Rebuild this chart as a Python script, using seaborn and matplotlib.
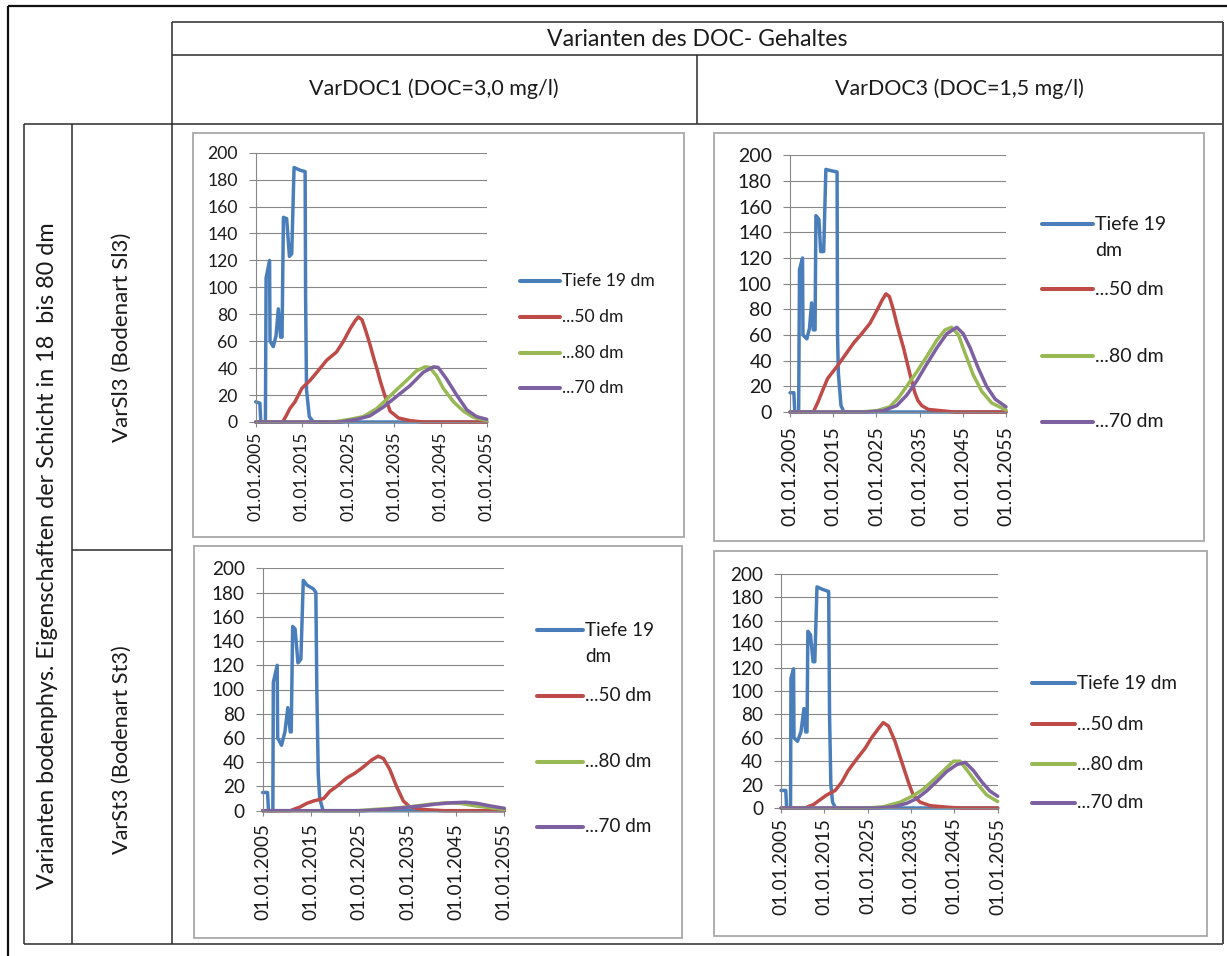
import matplotlib
matplotlib.use("Agg")
import matplotlib.pyplot as plt
import seaborn as sns
import pandas as pd
from matplotlib.patches import Rectangle
from matplotlib.lines import Line2D

sns.set_theme(style="white")
plt.rcParams["font.family"] = ["Lato", "DejaVu Sans"]
plt.rcParams["lines.solid_joinstyle"] = "round"
plt.rcParams["lines.solid_capstyle"] = "round"

# ---------------------------------------------------------------- labels
COL_HEADER = "Varianten des DOC- Gehaltes"
COL_LABELS = ["VarDOC1 (DOC=3,0 mg/l)", "VarDOC3 (DOC=1,5 mg/l)"]
ROW_HEADER = "Varianten bodenphys. Eigenschaften der Schicht in 18  bis 80 dm"
ROW_LABELS = ["VarSl3 (Bodenart Sl3)", "VarSt3 (Bodenart St3)"]

SERIES = ["Tiefe 19 dm", "...50 dm", "...80 dm", "...70 dm"]
COLORS = ["#4a7ebb", "#be4b48", "#98b954", "#7d60a0"]
TICK_YEARS = [2005, 2015, 2025, 2035, 2045, 2055]
Y_TICKS = [0, 20, 40, 60, 80, 100, 120, 140, 160, 180, 200]

# ---------------------------------------------------------------- VarDOC1 / VarSl3
A_T19_X = [2005.0, 2005.9, 2006.1, 2007.1, 2007.25, 2008.0, 2008.1, 2008.8, 2009.4, 2009.9,
           2010.4, 2010.7, 2011.0, 2011.7, 2012.3, 2012.8, 2013.3, 2014.6, 2015.7, 2015.8,
           2016.0, 2016.6, 2017.5, 2055.0]
A_T19_Y = [15, 14, 0, 0, 107, 120, 60, 56, 64, 84, 63, 63, 152, 151, 123, 125, 189, 187, 186,
           93, 24, 4, 0, 0]
A_T50_X = [2005.0, 2010.8, 2011.5, 2012.4, 2013.5, 2015.0, 2016.8, 2018.5, 2020.4, 2022.5,
           2024.0, 2025.4, 2026.5, 2027.2, 2028.0, 2028.8, 2029.7, 2030.5, 2031.2, 2032.0,
           2033.0, 2034.1, 2035.9, 2038.4, 2041.3, 2055.0]
A_T50_Y = [0, 0, 4, 10, 15, 25, 31, 38, 46, 52, 60, 69, 75, 78, 76, 68, 58, 48, 40, 30, 19, 8,
           3, 1, 0, 0]
A_T80_X = [2005.0, 2021.8, 2025.4, 2028.3, 2031.2, 2033.4, 2035.5, 2037.7, 2039.8, 2041.7,
           2042.7, 2044.2, 2045.6, 2047.8, 2050.0, 2052.1, 2055.0]
A_T80_Y = [0, 0, 2, 4, 10, 17, 24, 31, 38, 41, 40.5, 34, 25, 15, 8, 3.5, 1]
A_T70_X = [2005.0, 2023.3, 2026.9, 2029.7, 2032.6, 2035.5, 2038.4, 2041.3, 2043.5, 2044.5,
           2046.3, 2048.5, 2050.7, 2052.8, 2055.0]
A_T70_Y = [0, 0, 2, 4.5, 11, 19, 27, 37, 41, 40.5, 32, 20, 9, 4, 2]

# ---------------------------------------------------------------- VarDOC3 / VarSl3
B_T19_X = [2005.0, 2005.9, 2006.1, 2007.0, 2007.2, 2007.9, 2008.0, 2008.9, 2009.5, 2010.0,
           2010.4, 2010.8, 2011.0, 2011.7, 2012.1, 2012.8, 2013.3, 2014.5, 2015.9, 2016.0,
           2016.2, 2016.8, 2017.5, 2055.0]
B_T19_Y = [15, 15, 0, 0, 111, 120, 60, 57, 65, 85, 64, 64, 153, 150, 125, 125, 189, 188, 187,
           60, 30, 5, 0, 0]
B_T50_X = [2005.0, 2010.4, 2011.5, 2012.7, 2013.7, 2014.6, 2016.0, 2018.1, 2019.8, 2021.6,
           2023.5, 2025.1, 2026.3, 2027.2, 2028.0, 2028.9, 2029.7, 2030.5, 2031.2, 2032.0,
           2032.8, 2033.9, 2034.6, 2035.5, 2037.0, 2040.0, 2043.0, 2055.0]
B_T50_Y = [0, 0, 8, 18, 26, 30, 36, 46, 54, 61, 69, 79, 87, 92, 90, 80, 69, 59, 51, 40, 29, 15,
           9, 5, 2, 1, 0, 0]
B_T80_X = [2005.0, 2021.2, 2025.1, 2028.1, 2030.1, 2032.0, 2034.3, 2036.6, 2039.0, 2040.9,
           2042.4, 2044.0, 2045.5, 2047.4, 2049.4, 2051.7, 2055.0]
B_T80_Y = [0, 0, 1, 4, 11, 20, 31, 43, 56, 64, 66, 60, 46, 29, 16, 7, 1.5]
B_T70_X = [2005.0, 2022.7, 2026.6, 2029.7, 2032.0, 2034.3, 2036.6, 2039.0, 2041.3, 2043.6,
           2045.1, 2046.7, 2048.6, 2050.5, 2052.5, 2055.0]
B_T70_Y = [0, 0, 1, 5, 13, 24, 37, 50, 61, 66, 61, 50, 34, 20, 10, 4]

# ---------------------------------------------------------------- VarDOC1 / VarSt3
C_T19_X = [2005.0, 2006.0, 2006.2, 2007.1, 2007.2, 2008.0, 2008.1, 2008.9, 2009.6, 2010.2,
           2010.7, 2010.9, 2011.2, 2011.7, 2012.3, 2012.9, 2013.4, 2014.2, 2015.5, 2016.0,
           2016.2, 2016.5, 2016.8, 2017.5, 2055.0]
C_T19_Y = [15, 15, 0, 0, 106, 120, 60, 54, 65, 85, 65, 65, 152, 150, 122, 125, 190, 186, 183,
           180, 100, 30, 10, 0, 0]
C_T50_X = [2005.0, 2010.7, 2012.7, 2014.1, 2015.5, 2017.6, 2018.9, 2020.3, 2022.4, 2024.1,
           2025.8, 2027.6, 2028.9, 2030.0, 2031.3, 2032.7, 2034.1, 2035.5, 2038.2, 2042.4,
           2055.0]
C_T50_Y = [0, 0, 3, 6, 8, 10, 16, 20, 27, 31, 36, 42, 45, 43, 34, 20, 8, 3, 1, 0, 0]
C_T80_X = [2005.0, 2024.4, 2028.0, 2032.0, 2036.0, 2040.0, 2043.0, 2046.0, 2049.0, 2052.0,
           2055.0]
C_T80_Y = [0, 0, 1, 2, 3.5, 5.5, 6.5, 6, 4, 2.5, 1]
C_T70_X = [2005.0, 2025.8, 2030.0, 2034.0, 2038.0, 2041.0, 2044.0, 2047.0, 2049.5, 2052.0,
           2055.0]
C_T70_Y = [0, 0, 1, 2.5, 4, 5.5, 6.5, 7, 6, 4, 2]

# ---------------------------------------------------------------- VarDOC3 / VarSt3
D_T19_X = [2005.0, 2006.1, 2006.3, 2007.2, 2007.3, 2007.9, 2008.0, 2008.8, 2009.6, 2010.3,
           2010.7, 2011.0, 2011.2, 2011.8, 2012.4, 2012.8, 2013.3, 2014.5, 2016.0, 2016.2,
           2016.5, 2016.9, 2017.6, 2055.0]
D_T19_Y = [15, 15, 0, 0, 111, 119, 60, 57, 65, 85, 65, 65, 151, 148, 125, 125, 189, 187, 185,
           80, 20, 5, 0, 0]
D_T50_X = [2005.0, 2010.5, 2012.5, 2014.0, 2015.5, 2017.5, 2019.0, 2020.5, 2022.5, 2024.4,
           2025.9, 2027.5, 2028.6, 2029.8, 2031.3, 2032.8, 2034.4, 2035.5, 2037.1, 2039.4,
           2044.0, 2047.0, 2055.0]
D_T50_Y = [0, 0, 3, 7, 11, 15, 22, 32, 42, 51, 60, 68, 73, 70, 57, 40, 22, 11, 5, 2, 0.5, 0, 0]
D_T80_X = [2005.0, 2024.8, 2028.6, 2032.5, 2035.5, 2037.8, 2040.2, 2042.5, 2044.8, 2046.3,
           2048.2, 2050.2, 2052.5, 2055.0]
D_T80_Y = [0, 0, 1, 5, 10.5, 16, 24, 32, 40, 40, 31, 21, 11, 5.5]
D_T70_X = [2005.0, 2027.1, 2030.9, 2034.0, 2036.3, 2038.6, 2040.9, 2043.2, 2045.5, 2047.5,
           2049.4, 2051.3, 2053.2, 2055.0]
D_T70_Y = [0, 0, 1, 4, 8, 14.5, 22.5, 31, 37, 39, 32, 22.5, 14.5, 10]

PANELS = [
    [(A_T19_X, A_T19_Y), (A_T50_X, A_T50_Y), (A_T80_X, A_T80_Y), (A_T70_X, A_T70_Y)],
    [(B_T19_X, B_T19_Y), (B_T50_X, B_T50_Y), (B_T80_X, B_T80_Y), (B_T70_X, B_T70_Y)],
    [(C_T19_X, C_T19_Y), (C_T50_X, C_T50_Y), (C_T80_X, C_T80_Y), (C_T70_X, C_T70_Y)],
    [(D_T19_X, D_T19_Y), (D_T50_X, D_T50_Y), (D_T80_X, D_T80_Y), (D_T70_X, D_T70_Y)],
]

# ---------------------------------------------------------------- page layout (pixels)
W, H = 1227, 956
fig = plt.figure(figsize=(W / 100, H / 100), dpi=100)
page = fig.add_axes([0, 0, 1, 1])
page.set_xlim(0, W)
page.set_ylim(H, 0)
page.axis("off")

TEXT = "#1a1a1a"
RULE = "#2b2b2b"


def rule(x0, y0, x1, y1, lw=1.1, color=RULE):
    page.add_line(Line2D([x0, x1], [y0, y1], color=color, lw=lw, solid_capstyle="butt"))


# outer frame (only top and left edges visible on the page)
rule(8, 6, W, 6, lw=1.6, color="#111111")
rule(8, 6, 8, H, lw=1.6, color="#111111")

# table grid
L0, L1, L2, L3, R = 23.7, 71.7, 171.5, 697, 1222.5
T0, T1, T2, TM, TB = 22, 54.5, 124, 550.3, 944
rule(L2, T0, R, T0)
rule(L2, T1, R, T1)
rule(L0, T2, R, T2)
rule(L0, TB, R, TB)
rule(L1, TM, L2, TM)
rule(L0, T2, L0, TB)
rule(L1, T2, L1, TB)
rule(L2, T0, L2, TB)
rule(R, T0, R, TB, lw=1.4, color="#4a4a4a")
rule(L3, T1, L3, T2)

renderer = fig.canvas.get_renderer()


def fit_text(x, y, s, length_px, rotation=0):
    t = page.text(x, y, s, ha="center", va="center", rotation=rotation,
                  fontsize=10, color=TEXT)
    bb = t.get_window_extent(renderer=renderer)
    ext = bb.height if rotation else bb.width
    t.set_fontsize(10 * length_px / ext)
    return t


fit_text((L2 + R) / 2, 39, COL_HEADER, 300)
fit_text((L2 + L3) / 2, 89, COL_LABELS[0], 248)
fit_text((L3 + R) / 2, 89, COL_LABELS[1], 248)
fit_text((L0 + L1) / 2, 556, ROW_HEADER, 667, rotation=90)
fit_text((L1 + L2) / 2, 337, ROW_LABELS[0], 209, rotation=90)
fit_text((L1 + L2) / 2, 750, ROW_LABELS[1], 209, rotation=90)

# chart frames, plot areas and legend geometry for the four embedded charts
FRAMES = [(192.5, 132.5, 684, 537), (714, 133, 1203.5, 540.5),
          (194.3, 545.7, 682, 937.7), (714, 550.7, 1206.5, 936)]
PLOTS = [(255.7, 152.7, 486.7, 422), (790, 155.3, 1006, 412),
         (262.7, 568.3, 504.3, 810.7), (781, 574, 997.7, 808)]
FONT = [12.6, 14.0, 13.6, 13.6]
XPAD = [3.4, 6.5, 5.2, 3.4]
LEGEND = [
    dict(x0=520, x1=560, rows=[281, 317, 352.7, 387.7], wrap=False),
    dict(x0=1042, x1=1093, rows=[224.3, 289.3, 356, 421.7], wrap=True),
    dict(x0=537, x1=583, rows=[630, 695.7, 761.7, 826.7], wrap=True),
    dict(x0=1031.7, x1=1075, rows=[683.3, 724, 764, 802.7], wrap=False),
]
GRID = "#878787"
LW = 2.5

for i, series in enumerate(PANELS):
    fx0, fy0, fx1, fy1 = FRAMES[i]
    page.add_patch(Rectangle((fx0, fy0), fx1 - fx0, fy1 - fy0, facecolor="white",
                             edgecolor="#a8a8a8", lw=1.3, zorder=1))
    px0, py0, px1, py1 = PLOTS[i]
    ax = fig.add_axes([px0 / W, 1 - py1 / H, (px1 - px0) / W, (py1 - py0) / H])
    ax.set_zorder(3)
    ax.set_facecolor("none")

    frames = []
    for label, (xs, ys) in zip(SERIES, series):
        frames.append(pd.DataFrame({"Jahr": xs, "DOC": ys, "Reihe": label}))
    df = pd.concat(frames, ignore_index=True)
    sns.lineplot(data=df, x="Jahr", y="DOC", hue="Reihe", hue_order=SERIES,
                 palette=COLORS, estimator=None, sort=False, legend=False,
                 linewidth=LW, ax=ax)
    for ln in ax.lines:
        ln.set_clip_on(False)
        ln.set_solid_joinstyle("round")

    ax.set_xlim(2005, 2055)
    ax.set_ylim(0, 200)
    ax.set_xlabel("")
    ax.set_ylabel("")
    ax.set_yticks(Y_TICKS)
    ax.set_yticklabels([str(v) for v in Y_TICKS])
    ax.set_xticks(TICK_YEARS)
    ax.set_xticklabels([f"01.01.{y}" for y in TICK_YEARS], rotation=90)
    ax.grid(axis="y", color=GRID, lw=0.8)
    ax.grid(axis="x", visible=False)
    ax.set_axisbelow(True)
    for side in ("top", "right"):
        ax.spines[side].set_visible(False)
    for side in ("left", "bottom"):
        ax.spines[side].set_color(GRID)
        ax.spines[side].set_linewidth(0.8)
    ax.tick_params(axis="y", direction="out", length=5, width=0.8, color=GRID,
                   pad=8.0, labelsize=FONT[i], labelcolor=TEXT, left=True)
    ax.tick_params(axis="x", direction="out", length=3.6, width=0.8, color=GRID,
                   pad=XPAD[i], labelsize=FONT[i], labelcolor=TEXT, bottom=True)

    # legend entries drawn beside the plot area
    lg = LEGEND[i]
    for label, color, yrow in zip(SERIES, COLORS, lg["rows"]):
        page.add_line(Line2D([lg["x0"], lg["x1"]], [yrow, yrow], color=color, lw=LW + 0.4,
                             solid_capstyle="round", zorder=4))
        if lg["wrap"] and label.startswith("Tiefe"):
            head, tail = label.rsplit(" ", 1)
            page.text(lg["x1"] + 2, yrow, head, ha="left", va="center",
                      fontsize=FONT[i], color=TEXT, zorder=4)
            page.text(lg["x1"] + 2, yrow + 26, tail, ha="left", va="center",
                      fontsize=FONT[i], color=TEXT, zorder=4)
        else:
            page.text(lg["x1"] + 2, yrow, label, ha="left", va="center",
                      fontsize=FONT[i], color=TEXT, zorder=4)

fig.savefig("out.png", dpi=100, facecolor="white")
